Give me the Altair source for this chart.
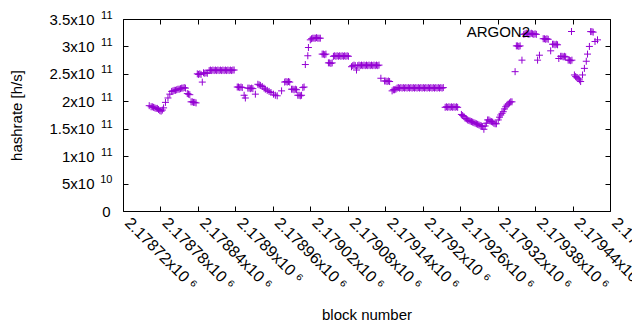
import altair as alt
import pandas as pd

# ---- data (block number, hashrate in GH/s) ----
blocks = [
    2178762, 2178765, 2178767, 2178769, 2178771, 2178773, 2178775, 2178777, 2178779, 2178781, 2178783, 2178785, 2178788, 2178792, 2178795, 2178798,
    2178800, 2178802, 2178804, 2178806, 2178808, 2178810, 2178812, 2178814, 2178816, 2178818, 2178820, 2178823, 2178825, 2178827,
    2178829, 2178831, 2178833, 2178835, 2178837, 2178839, 2178841, 2178843, 2178845, 2178847, 2178849, 2178851, 2178853, 2178855,
    2178858, 2178860, 2178862, 2178864, 2178866, 2178868, 2178870, 2178872, 2178874, 2178876, 2178878, 2178880, 2178882, 2178884, 2178886, 2178888, 2178890, 2178892, 2178894, 2178896, 2178898,
    2178903, 2178905, 2178907, 2178909, 2178911, 2178914, 2178916, 2178920, 2178922, 2178924, 2178926, 2178928, 2178932,
    2178936, 2178938, 2178940, 2178943, 2178946, 2178948, 2178951, 2178954, 2178957, 2178961, 2178964, 2178967, 2178974,
    2178979, 2178981, 2178983, 2178985, 2178987, 2178990, 2178992, 2178994, 2178996, 2178998, 2179000, 2179002, 2179004, 2179006, 2179008, 2179010,
    2179012, 2179016, 2179017, 2179020, 2179022, 2179024, 2179026, 2179028, 2179030, 2179032, 2179034, 2179036,
    2179039, 2179041, 2179043, 2179045, 2179049, 2179051, 2179053, 2179055,
    2179057, 2179059, 2179061, 2179063, 2179065, 2179067, 2179069, 2179071, 2179073, 2179075, 2179077, 2179079, 2179081,
    2179086, 2179088, 2179090, 2179092, 2179094, 2179096, 2179098, 2179100, 2179102, 2179104, 2179106, 2179108, 2179110, 2179112, 2179114, 2179116, 2179118, 2179120, 2179122, 2179124, 2179126, 2179128, 2179130,
    2179133, 2179139, 2179141, 2179143, 2179145, 2179147, 2179151, 2179153, 2179155, 2179157,
    2179159, 2179161, 2179163, 2179165, 2179167, 2179169, 2179171, 2179173, 2179175, 2179177, 2179179, 2179181, 2179183, 2179185, 2179187, 2179189, 2179191, 2179193, 2179195,
    2179197, 2179199, 2179201, 2179203, 2179205, 2179207, 2179209, 2179211, 2179213, 2179215, 2179217, 2179219, 2179221, 2179223, 2179225, 2179227, 2179229, 2179231, 2179233,
    2179236, 2179238, 2179240, 2179242, 2179244, 2179246, 2179248, 2179250, 2179252, 2179254, 2179256,
    2179262, 2179264, 2179266, 2179268, 2179270, 2179272, 2179274, 2179276, 2179278, 2179280, 2179282, 2179284, 2179286, 2179288, 2179290,
    2179292, 2179294, 2179296, 2179298, 2179300, 2179302, 2179304, 2179306, 2179308, 2179310, 2179312, 2179314, 2179316, 2179318,
    2179321, 2179323, 2179325, 2179327, 2179329, 2179331, 2179333, 2179335, 2179337, 2179339, 2179341, 2179343,
    2179348, 2179350, 2179352, 2179354, 2179356, 2179359, 2179362, 2179364, 2179366, 2179368, 2179370, 2179372, 2179374, 2179376, 2179378, 2179380, 2179382, 2179384, 2179387,
    2179393, 2179395, 2179397, 2179399, 2179401, 2179405, 2179408, 2179410, 2179412, 2179414, 2179416, 2179418, 2179421, 2179423, 2179425, 2179427, 2179429,
    2179433, 2179435, 2179437, 2179439, 2179443, 2179445, 2179447, 2179449, 2179451, 2179453, 2179456, 2179459, 2179462, 2179464, 2179467, 2179469, 2179471, 2179473, 2179476, 2179480,
]

hashrate_ghs = [
    192, 190, 190, 189, 188, 187, 187, 185, 183, 182, 184, 188, 198, 206, 213, 218,
    219, 220, 220, 221, 222, 222, 223, 224, 224, 225, 224, 214, 213, 212,
    199, 199, 198, 198, 197, 250, 249, 250, 249, 235, 252, 251, 252, 251,
    256, 257, 256, 257, 256, 257, 256, 257, 256, 257, 256, 257, 256, 257, 256, 257, 256, 257, 256, 257, 257,
    226, 226, 225, 226, 225, 211, 206, 224, 224, 223, 224, 223, 213,
    231, 230, 229, 227, 224, 222, 220, 218, 216, 213, 211, 210, 219,
    235, 236, 235, 236, 235, 222, 222, 221, 222, 221, 211, 211, 210, 211, 225, 226,
    267, 283, 298, 312, 314, 315, 315, 315, 316, 315, 315, 315,
    286, 286, 285, 286, 270, 270, 269, 270,
    282, 283, 282, 283, 282, 283, 282, 283, 282, 283, 282, 283, 282,
    263, 265, 266, 265, 257, 265, 266, 265, 266, 265, 266, 265, 266, 265, 266, 265, 266, 265, 266, 265, 266, 265, 266,
    242, 237, 237, 236, 237, 236, 219, 221, 221, 222,
    224, 225, 224, 225, 224, 225, 224, 225, 224, 225, 224, 225, 224, 225, 224, 225, 224, 225, 224,
    225, 224, 225, 224, 225, 224, 225, 224, 225, 224, 225, 224, 225, 224, 225, 224, 225, 224, 225,
    189, 190, 189, 190, 189, 190, 189, 190, 189, 190, 189,
    176, 174, 172, 169, 168, 166, 165, 164, 163, 162, 161, 160, 159, 158, 157,
    156, 155, 154, 149, 155, 160, 166, 166, 164, 163, 162, 160, 159, 159,
    166, 171, 175, 178, 181, 186, 190, 193, 195, 197, 199, 199,
    254, 301, 301, 300, 301, 275, 322, 323, 324, 323, 322, 323, 324, 323, 322, 323, 322, 275, 284,
    314, 314, 313, 314, 313, 292, 304, 304, 303, 304, 303, 278, 282, 282, 281, 282, 281,
    275, 275, 274, 275, 248, 245, 243, 242, 239, 236, 248, 260, 273, 286, 300, 327, 327, 326, 309, 312,
]

x_tick_values = [2178720, 2178780, 2178840, 2178900, 2178960, 2179020, 2179080,
                 2179140, 2179200, 2179260, 2179320, 2179380, 2179440, 2179500]
y_tick_values = [0, 5e10, 1e11, 1.5e11, 2e11, 2.5e11, 3e11, 3.5e11]
series_name = "ARGON2"

df = pd.DataFrame({
    "block": blocks,
    "hashrate": [v * 1e9 for v in hashrate_ghs],
    "series": series_name,
})

PURPLE = "#9400D3"
PLUS = "M-1,0L1,0M0,-1L0,1"
FONT = "Liberation Sans"
W, H = 487, 192

x_scale = alt.Scale(domain=[2178720, 2179500], nice=False, zero=False)
y_scale = alt.Scale(domain=[0, 3.5e11], nice=False, zero=True)

x_label_expr = "format(datum.value / 1000000, '.5~f') + 'x10 \u2076'"
# mantissa part of the y labels ("2x10"), exponent part ("11") drawn as a raised, smaller label
y_main_expr = ("datum.value == 0 ? '' : (datum.value < 1e11 ? "
               "format(datum.value / 1e10, '~g') : format(datum.value / 1e11, '~g')) + 'x10'")
y_exp_expr = "datum.value == 0 ? '' : (datum.value < 1e11 ? '10' : '11')"
y_zero_expr = "datum.value == 0 ? '0' : ''"

base = alt.Chart(df)

points = base.mark_point(
    shape=PLUS, filled=False, strokeWidth=1, size=49, opacity=1
).encode(
    x=alt.X("block:Q", scale=x_scale, axis=alt.Axis(
        orient="bottom", values=x_tick_values, labelExpr=x_label_expr,
        ticks=False, tickSize=0, domain=False, grid=False,
        labelAngle=45, labelAlign="left", labelBaseline="middle", labelFontSize=16,
        labelPadding=9, labelOffset=4, labelFlush=False, labelOverlap=False,
        title="block number", titleY=108, titleBaseline="alphabetic",
    )),
    y=alt.Y("hashrate:Q", scale=y_scale, axis=alt.Axis(
        orient="left", values=y_tick_values, labelExpr=y_main_expr,
        ticks=False, tickSize=0, domain=False, grid=False,
        labelPadding=29, labelFlush=False, labelOverlap=False,
        title="hashrate [h/s]", titleAngle=270, titleX=-102, titleBaseline="alphabetic",
    )),
    color=alt.Color("series:N", scale=alt.Scale(range=[PURPLE]), legend=alt.Legend(
        title=None, orient="none", legendX=441, legendY=5,
        symbolType=PLUS, symbolSize=49, symbolStrokeWidth=1,
        labelAlign="right", labelOffset={"expr": "-49"}, padding=0,
    )),
)

# exponent labels of the y axis, and the plain "0"
y_exp = base.mark_point(opacity=0).encode(
    x=alt.X("block:Q", scale=x_scale, axis=None),
    y=alt.Y("hashrate:Q", scale=y_scale, axis=alt.Axis(
        orient="left", values=y_tick_values, labelExpr=y_exp_expr,
        ticks=False, tickSize=0, domain=False, grid=False, labelFontSize=11,
        labelPadding=11, labelOffset={"expr": "-4"}, labelFlush=False, labelOverlap=False,
        title=None)),
)
y_zero = base.mark_point(opacity=0).encode(
    x=alt.X("block:Q", scale=x_scale, axis=None),
    y=alt.Y("hashrate:Q", scale=y_scale, axis=alt.Axis(
        orient="left", values=y_tick_values, labelExpr=y_zero_expr,
        ticks=False, tickSize=0, domain=False, grid=False,
        labelPadding=13, labelFlush=False, labelOverlap=False, title=None)),
)

# inward ticks on all four sides of the frame
ticks_a = base.mark_point(opacity=0).encode(
    x=alt.X("block:Q", scale=x_scale, axis=alt.Axis(
        orient="top", offset=-H, values=x_tick_values, labels=False,
        domain=False, grid=False, tickSize=5, title=None)),
    y=alt.Y("hashrate:Q", scale=y_scale, axis=alt.Axis(
        orient="right", offset=-W, values=y_tick_values, labels=False,
        domain=False, grid=False, tickSize=5, title=None)),
)
ticks_b = base.mark_point(opacity=0).encode(
    x=alt.X("block:Q", scale=x_scale, axis=alt.Axis(
        orient="bottom", offset=-H, values=x_tick_values, labels=False,
        domain=False, grid=False, tickSize=5, title=None)),
    y=alt.Y("hashrate:Q", scale=y_scale, axis=alt.Axis(
        orient="left", offset=-W, values=y_tick_values, labels=False,
        domain=False, grid=False, tickSize=5, title=None)),
)

chart = alt.layer(points, y_exp, y_zero, ticks_a, ticks_b).resolve_axis(
    x="independent", y="independent"
).properties(
    width=W, height=H,
    autosize=alt.AutoSizeParams(type="none"),
    padding={"left": 115, "top": 11, "right": 22, "bottom": 111},
).configure_view(
    stroke="black", strokeWidth=1
).configure_axis(
    labelFont=FONT, titleFont=FONT, labelFontSize=15, titleFontSize=15,
    labelColor="black", titleColor="black", titleFontWeight="normal",
    tickColor="black", tickWidth=1,
).configure_legend(
    labelFont=FONT, labelFontSize=15, labelColor="black",
)

chart.save("out.html", embed_options={"renderer": "svg", "actions": False})
